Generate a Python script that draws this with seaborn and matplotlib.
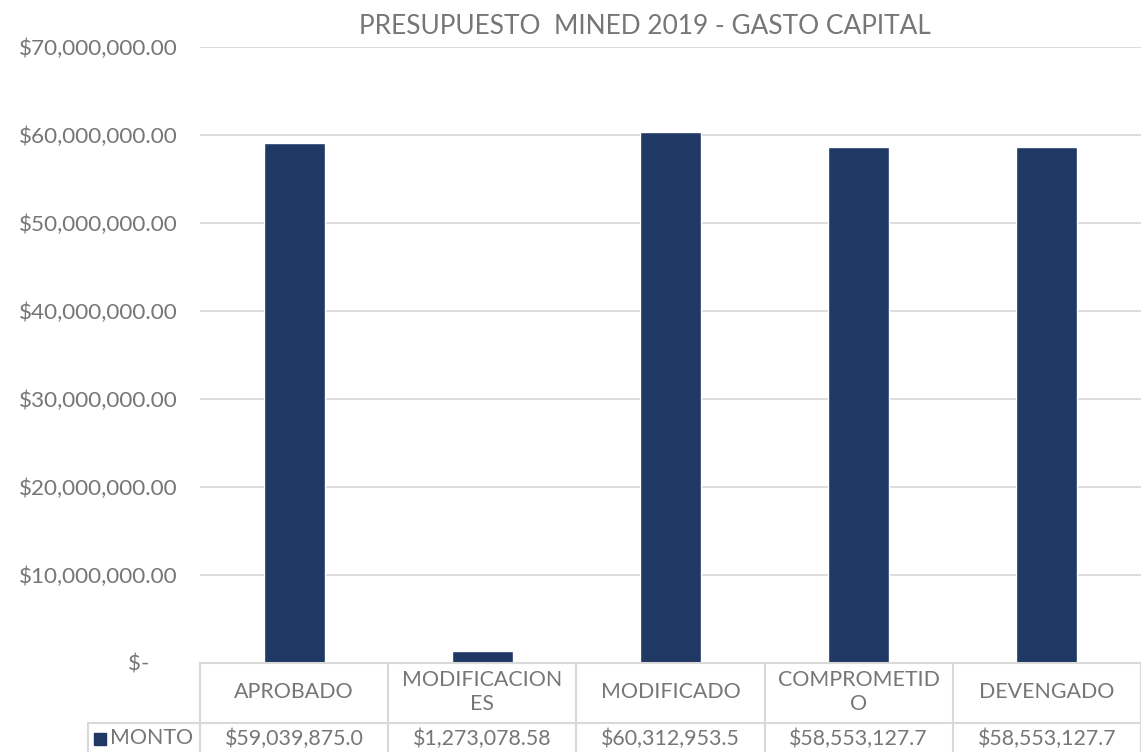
import matplotlib
matplotlib.use("Agg")
import matplotlib.pyplot as plt
import seaborn as sns
import pandas as pd
from matplotlib.lines import Line2D
from matplotlib.patches import Rectangle
from matplotlib.ticker import FuncFormatter

# ---- data ----
categories = ["APROBADO", "MODIFICACIONES", "MODIFICADO", "COMPROMETIDO", "DEVENGADO"]
header_labels = ["APROBADO", "MODIFICACION\nES", "MODIFICADO", "COMPROMETID\nO", "DEVENGADO"]
values = [59039875.00, 1273078.58, 60312953.58, 58553127.70, 58553127.70]
value_labels = ["$59,039,875.0", "$1,273,078.58", "$60,312,953.5", "$58,553,127.7", "$58,553,127.7"]
series_name = "MONTO"
title = "PRESUPUESTO  MINED 2019 - GASTO CAPITAL"
y_ticks = [0, 10e6, 20e6, 30e6, 40e6, 50e6, 60e6, 70e6]

BAR = "#203864"
GRID = "#d9d9d9"
TXT = "#767676"
FW = "normal"
FS = 16.2
FS_T = 15.4

sns.set_theme(style="white")
plt.rcParams["font.family"] = ["Lato", "DejaVu Sans"]

W, H = 1141, 752
fig = plt.figure(figsize=(W / 100, H / 100), dpi=100)
ax_l, ax_r, ax_t, ax_b = 200, 1141, 46.7, 662.7
ax = fig.add_axes([ax_l / W, 1 - ax_b / H, (ax_r - ax_l) / W, (ax_b - ax_t) / H])

df = pd.DataFrame({"cat": categories, "val": values})
sns.barplot(data=df, x="cat", y="val", color=BAR, width=0.325, saturation=1, ax=ax)

ax.set_ylim(0, 70e6)
ax.set_xlim(-0.5, len(categories) - 0.5)
ax.set_yticks(y_ticks)


def fmt(v, pos):
    if v == 0:
        return "$-     "
    return "${:,.2f}".format(v)


ax.yaxis.set_major_formatter(FuncFormatter(fmt))
ax.tick_params(axis="y", labelsize=FS, colors=TXT, length=0, pad=16)
ax.set_xticks([])
ax.set_xlabel("")
ax.set_ylabel("")
ax.grid(axis="y", color=GRID, linewidth=1.3)
ax.set_axisbelow(True)
for s in ["top", "right", "left"]:
    ax.spines[s].set_visible(False)
ax.spines["bottom"].set_color(GRID)
ax.spines["bottom"].set_linewidth(1.5)
for lab in ax.get_yticklabels():
    lab.set_fontweight(FW)

fig.text(645 / W, 1 - 27 / H, title, ha="center", va="center", fontsize=18.9,
         color=TXT, fontweight=FW)

# ---- data table below the axes ----
def fx(px):
    return px / W


def fy(py):
    return 1 - py / H


lw = 1.5
n = len(categories)
col_w = (ax_r - ax_l) / n
row1_top, row1_bot, row2_bot = ax_b, 723, 760
fig.add_artist(Line2D([fx(ax_l), fx(ax_r)], [fy(row1_bot), fy(row1_bot)], color=GRID, lw=lw))
fig.add_artist(Line2D([fx(88), fx(ax_l)], [fy(row1_bot), fy(row1_bot)], color=GRID, lw=lw))
for i in range(n + 1):
    x = ax_l + i * col_w
    fig.add_artist(Line2D([fx(x), fx(x)], [fy(row1_top), fy(row2_bot)], color=GRID, lw=lw))
fig.add_artist(Line2D([fx(88), fx(88)], [fy(row1_bot), fy(row2_bot)], color=GRID, lw=lw))

for i in range(n):
    cx = ax_l + (i + 0.5) * col_w
    fig.text(fx(cx), fy(692), header_labels[i], ha="center", va="center", fontsize=FS_T,
             color=TXT, fontweight=FW, linespacing=1.2)
    fig.text(fx(cx), fy(738.5), value_labels[i], ha="center", va="center", fontsize=FS_T,
             color=TXT, fontweight=FW)

fig.add_artist(Rectangle((fx(94), fy(745)), 12 / W, 12 / H, color=BAR, transform=fig.transFigure))
fig.text(fx(110), fy(738.5), series_name, ha="left", va="center", fontsize=FS_T,
         color=TXT, fontweight=FW)

fig.savefig("out.png", dpi=100)
